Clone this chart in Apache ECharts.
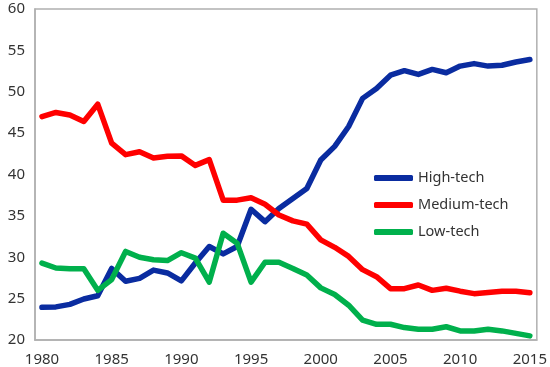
<!DOCTYPE html>
<html>
<head>
<meta charset="utf-8">
<script src="https://cdn.jsdelivr.net/npm/echarts@6/dist/echarts.min.js"></script>
<style>html,body{margin:0;padding:0;background:#fff;}#c{width:550px;height:367px;}</style>
</head>
<body>
<div id="c"></div>
<script>
const years = [];
for (let y = 1980; y <= 2015; y++) years.push(String(y));
const highTech = [23.95, 24.0, 24.3, 24.95, 25.35, 28.65, 27.1, 27.45, 28.45, 28.1, 27.15, 29.3, 31.3, 30.4, 31.3, 35.8, 34.3, 35.9, 37.1, 38.3, 41.75, 43.4, 45.8, 49.2, 50.4, 52.0, 52.55, 52.1, 52.7, 52.3, 53.1, 53.4, 53.1, 53.2, 53.6, 53.9];
const mediumTech = [47.0, 47.5, 47.2, 46.4, 48.5, 43.8, 42.4, 42.75, 42.0, 42.2, 42.25, 41.1, 41.8, 36.9, 36.9, 37.2, 36.4, 35.1, 34.4, 34.0, 32.1, 31.2, 30.1, 28.5, 27.65, 26.2, 26.2, 26.65, 26.0, 26.25, 25.9, 25.6, 25.75, 25.9, 25.9, 25.7];
const lowTech = [29.3, 28.7, 28.6, 28.6, 26.0, 27.3, 30.7, 30.0, 29.7, 29.6, 30.55, 29.9, 27.0, 32.9, 31.7, 27.0, 29.4, 29.4, 28.65, 27.85, 26.3, 25.5, 24.2, 22.4, 21.9, 21.9, 21.5, 21.3, 21.3, 21.6, 21.1, 21.1, 21.3, 21.1, 20.8, 20.5];
const yTicks = [20, 25, 30, 35, 40, 45, 50, 55, 60];

const chart = echarts.init(document.getElementById('c'), null, {renderer: 'canvas'});
const font = 'Noto Sans';
function mk(name, data, color) {
  return {name, type: 'line', data, symbol: 'none', smooth: false,
    lineStyle: {color, width: 5.5, cap: 'round', join: 'round'}, itemStyle: {color}};
}
chart.setOption({
  animation: false,
  backgroundColor: '#fff',
  grid: {left: 35, right: 12, top: 9, bottom: 27, show: true, borderColor: '#b0b0b0', borderWidth: 1.5, containLabel: false},
  legend: {
    orient: 'vertical', left: 369, top: 165, itemWidth: 39, itemHeight: 6, itemGap: 11,
    icon: 'roundRect',
    textStyle: {fontFamily: font, fontSize: 14.5, color: '#333', lineHeight: 16},
    data: ['High-tech', 'Medium-tech', 'Low-tech']
  },
  xAxis: {
    type: 'category', data: years, boundaryGap: true,
    axisLine: {show: true, lineStyle: {color: '#b0b0b0', width: 1.5}},
    axisTick: {show: false},
    axisLabel: {interval: 4, fontFamily: font, fontSize: 15, color: '#333', margin: 12}
  },
  yAxis: {
    type: 'value', min: yTicks[0], max: yTicks[yTicks.length - 1], interval: 5,
    axisLine: {show: true, lineStyle: {color: '#b0b0b0', width: 1.5}},
    axisTick: {show: false},
    splitLine: {show: false},
    axisLabel: {fontFamily: font, fontSize: 15, color: '#333', margin: 10}
  },
  series: [mk('High-tech', highTech, '#0A2CA0'), mk('Medium-tech', mediumTech, '#FF0000'), mk('Low-tech', lowTech, '#00B04C')]
});
</script>
</body>
</html>
